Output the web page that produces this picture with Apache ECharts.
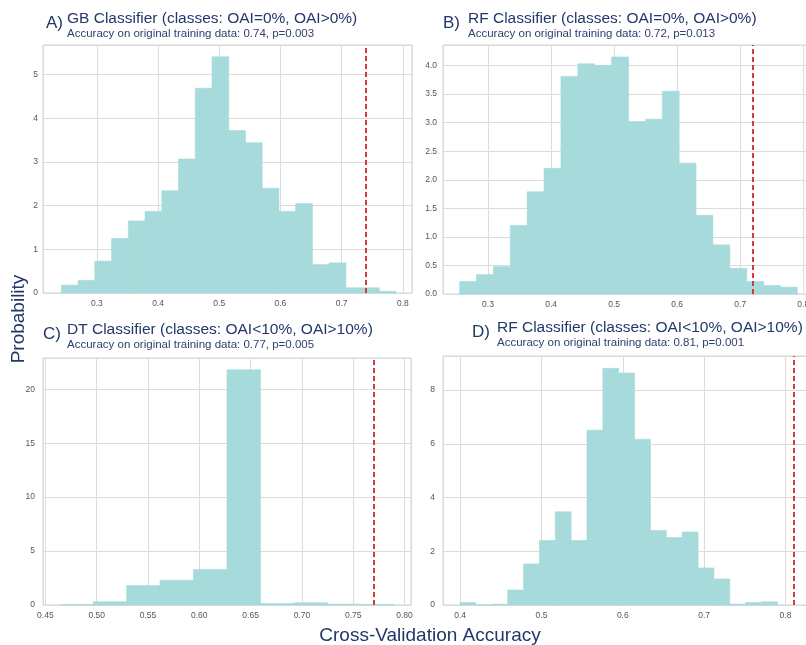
<!DOCTYPE html>
<html>
<head>
<meta charset="utf-8">
<title>Permutation test histograms</title>
<script src="https://cdn.jsdelivr.net/npm/echarts@6/dist/echarts.min.js"></script>
<style>
  html, body { margin: 0; padding: 0; background: #fff; }
  #main { width: 806px; height: 645px; }
</style>
</head>
<body>
<div id="main"></div>
<script>
// panel A - GB classifier, OAI=0% vs OAI>0%
var aBinStart = 0.242, aBinWidth = 0.02735;
var aHeights = [0.18, 0.29, 0.73, 1.25, 1.65, 1.87, 2.34, 3.07, 4.69, 5.41, 3.72, 3.44, 2.40, 1.87, 2.05, 0.65, 0.69, 0.12, 0.12, 0.04];
var aScore = 0.744;

// panel B - RF classifier, OAI=0% vs OAI>0%
var bBinStart = 0.255, bBinWidth = 0.02678;
var bHeights = [0.22, 0.34, 0.48, 1.20, 1.79, 2.20, 3.81, 4.03, 4.00, 4.15, 3.02, 3.06, 3.55, 2.29, 1.38, 0.86, 0.45, 0.22, 0.15, 0.12];
var bScore = 0.719;

// panel C - DT classifier, OAI<10% vs OAI>10%
var cBinStart = 0.464, cBinWidth = 0.0326;
var cHeights = [0.05, 0.3, 1.8, 2.3, 3.3, 21.8, 0.15, 0.2, 0.08, 0.05];
var cScore = 0.770;

// panel D - RF classifier, OAI<10% vs OAI>10%
var dBinStart = 0.400, dBinWidth = 0.0195;
var dHeights = [0.09, 0, 0.03, 0.56, 1.53, 2.40, 3.47, 2.40, 6.51, 8.81, 8.64, 6.17, 2.77, 2.51, 2.72, 1.38, 0.97, 0.03, 0.09, 0.12];
var dScore = 0.814;

var titles = [
  'GB Classifier (classes: OAI=0%, OAI>0%)',
  'RF Classifier (classes: OAI=0%, OAI>0%)',
  'DT Classifier (classes: OAI<10%, OAI>10%)',
  'RF Classifier (classes: OAI<10%, OAI>10%)'
];
var subtitles = [
  'Accuracy on original training data: 0.74, p=0.003',
  'Accuracy on original training data: 0.72, p=0.013',
  'Accuracy on original training data: 0.77, p=0.005',
  'Accuracy on original training data: 0.81, p=0.001'
];
var letters = ['A)', 'B)', 'C)', 'D)'];

var FONT = '"Liberation Sans", Arial, sans-serif';
var NAVY = '#22386a';
var BAR = '#a6dadb';

// histogram bins -> [x0, x1, height]
function bins(start, width, heights) {
  var out = [];
  for (var i = 0; i < heights.length; i++) {
    out.push([start + i * width, start + (i + 1) * width, heights[i]]);
  }
  return out;
}

function histSeries(idx, data, score) {
  return {
    type: 'custom',
    xAxisIndex: idx,
    yAxisIndex: idx,
    encode: { x: [0, 1], y: 2 },
    data: data,
    renderItem: function (params, api) {
      var p0 = api.coord([api.value(0), api.value(2)]);
      var p1 = api.coord([api.value(1), 0]);
      return {
        type: 'rect',
        shape: { x: p0[0], y: p0[1], width: p1[0] - p0[0], height: p1[1] - p0[1] },
        style: { fill: BAR, stroke: BAR, lineWidth: 0.6 }
      };
    },
    markLine: {
      silent: true,
      symbol: ['none', 'none'],
      label: { show: false },
      lineStyle: { color: '#d23b3b', width: 2, type: [5, 3] },
      data: [{ xAxis: score }]
    }
  };
}

function xAxis(idx, min, max, step, digits) {
  return {
    type: 'value', gridIndex: idx, min: min, max: max,
    minInterval: step, maxInterval: step,
    axisLine: { show: false }, axisTick: { show: false },
    axisLabel: { showMinLabel: false, showMaxLabel: false, margin: 6,
                 fontFamily: FONT, fontSize: 8.5, color: '#555',
                 formatter: function (v) { return v.toFixed(digits); } },
    splitLine: { lineStyle: { color: '#dcdcdc', width: 1 } }
  };
}

function yAxis(idx, max, step, digits, margin) {
  return {
    type: 'value', gridIndex: idx, min: 0, max: max, interval: step,
    axisLine: { show: false }, axisTick: { show: false },
    axisLabel: { showMaxLabel: false, margin: margin,
                 fontFamily: FONT, fontSize: 8.5, color: '#555',
                 formatter: function (v) { return v.toFixed(digits); } },
    splitLine: { lineStyle: { color: '#dcdcdc', width: 1 } }
  };
}

// B and D run a few pixels past the right edge of the picture, like the original
var gridBox = { show: true, borderColor: '#d2d2d2', borderWidth: 1, backgroundColor: '#fff',
                outerBoundsMode: 'none', containLabel: false };
var grids = [
  Object.assign({ left: 43, top: 45, width: 369, height: 248 }, gridBox),
  Object.assign({ left: 443, top: 45, width: 371, height: 249 }, gridBox),
  Object.assign({ left: 43, top: 358, width: 368, height: 247 }, gridBox),
  Object.assign({ left: 443, top: 356, width: 371, height: 249 }, gridBox)
];

// title positions [letterX, titleX, titleTop]
var titlePos = [[46, 67, 11], [443, 468, 11], [43, 67, 322], [472, 497, 320]];
var titleList = [];
for (var i = 0; i < 4; i++) {
  titleList.push({
    text: letters[i], left: titlePos[i][0], top: titlePos[i][2] + 4, padding: 0,
    textStyle: { fontFamily: FONT, fontSize: 17, fontWeight: 'normal', color: NAVY }
  });
  titleList.push({
    text: titles[i], subtext: subtitles[i],
    left: titlePos[i][1], top: titlePos[i][2], padding: 0, itemGap: 1,
    textStyle: { fontFamily: FONT, fontSize: 15.5, fontWeight: 'normal', color: NAVY },
    subtextStyle: { fontFamily: FONT, fontSize: 11.5, color: '#2e4170' }
  });
}

var chart = echarts.init(document.getElementById('main'));
chart.setOption({
  backgroundColor: '#fff',
  animation: false,
  title: titleList,
  grid: grids,
  xAxis: [
    xAxis(0, 0.212, 0.815, 0.1, 1),
    xAxis(1, 0.2286, 0.817, 0.1, 1),
    xAxis(2, 0.4477, 0.8063, 0.05, 2),
    xAxis(3, 0.379, 0.835, 0.1, 1)
  ],
  yAxis: [
    yAxis(0, 5.68, 1, 0, 5),
    yAxis(1, 4.36, 0.5, 1, 6),
    yAxis(2, 22.9, 5, 0, 8),
    yAxis(3, 9.27, 2, 0, 8)
  ],
  series: [
    histSeries(0, bins(aBinStart, aBinWidth, aHeights), aScore),
    histSeries(1, bins(bBinStart, bBinWidth, bHeights), bScore),
    histSeries(2, bins(cBinStart, cBinWidth, cHeights), cScore),
    histSeries(3, bins(dBinStart, dBinWidth, dHeights), dScore)
  ],
  graphic: [
    {
      type: 'text', x: 19, y: 319, rotation: Math.PI / 2,
      style: { text: 'Probability', fontFamily: FONT, fontSize: 19, fill: NAVY,
               align: 'center', verticalAlign: 'middle' }
    },
    {
      type: 'text', x: 430, y: 636,
      style: { text: 'Cross-Validation Accuracy', fontFamily: FONT, fontSize: 19, fill: NAVY,
               align: 'center', verticalAlign: 'middle' }
    }
  ]
});
</script>
</body>
</html>
